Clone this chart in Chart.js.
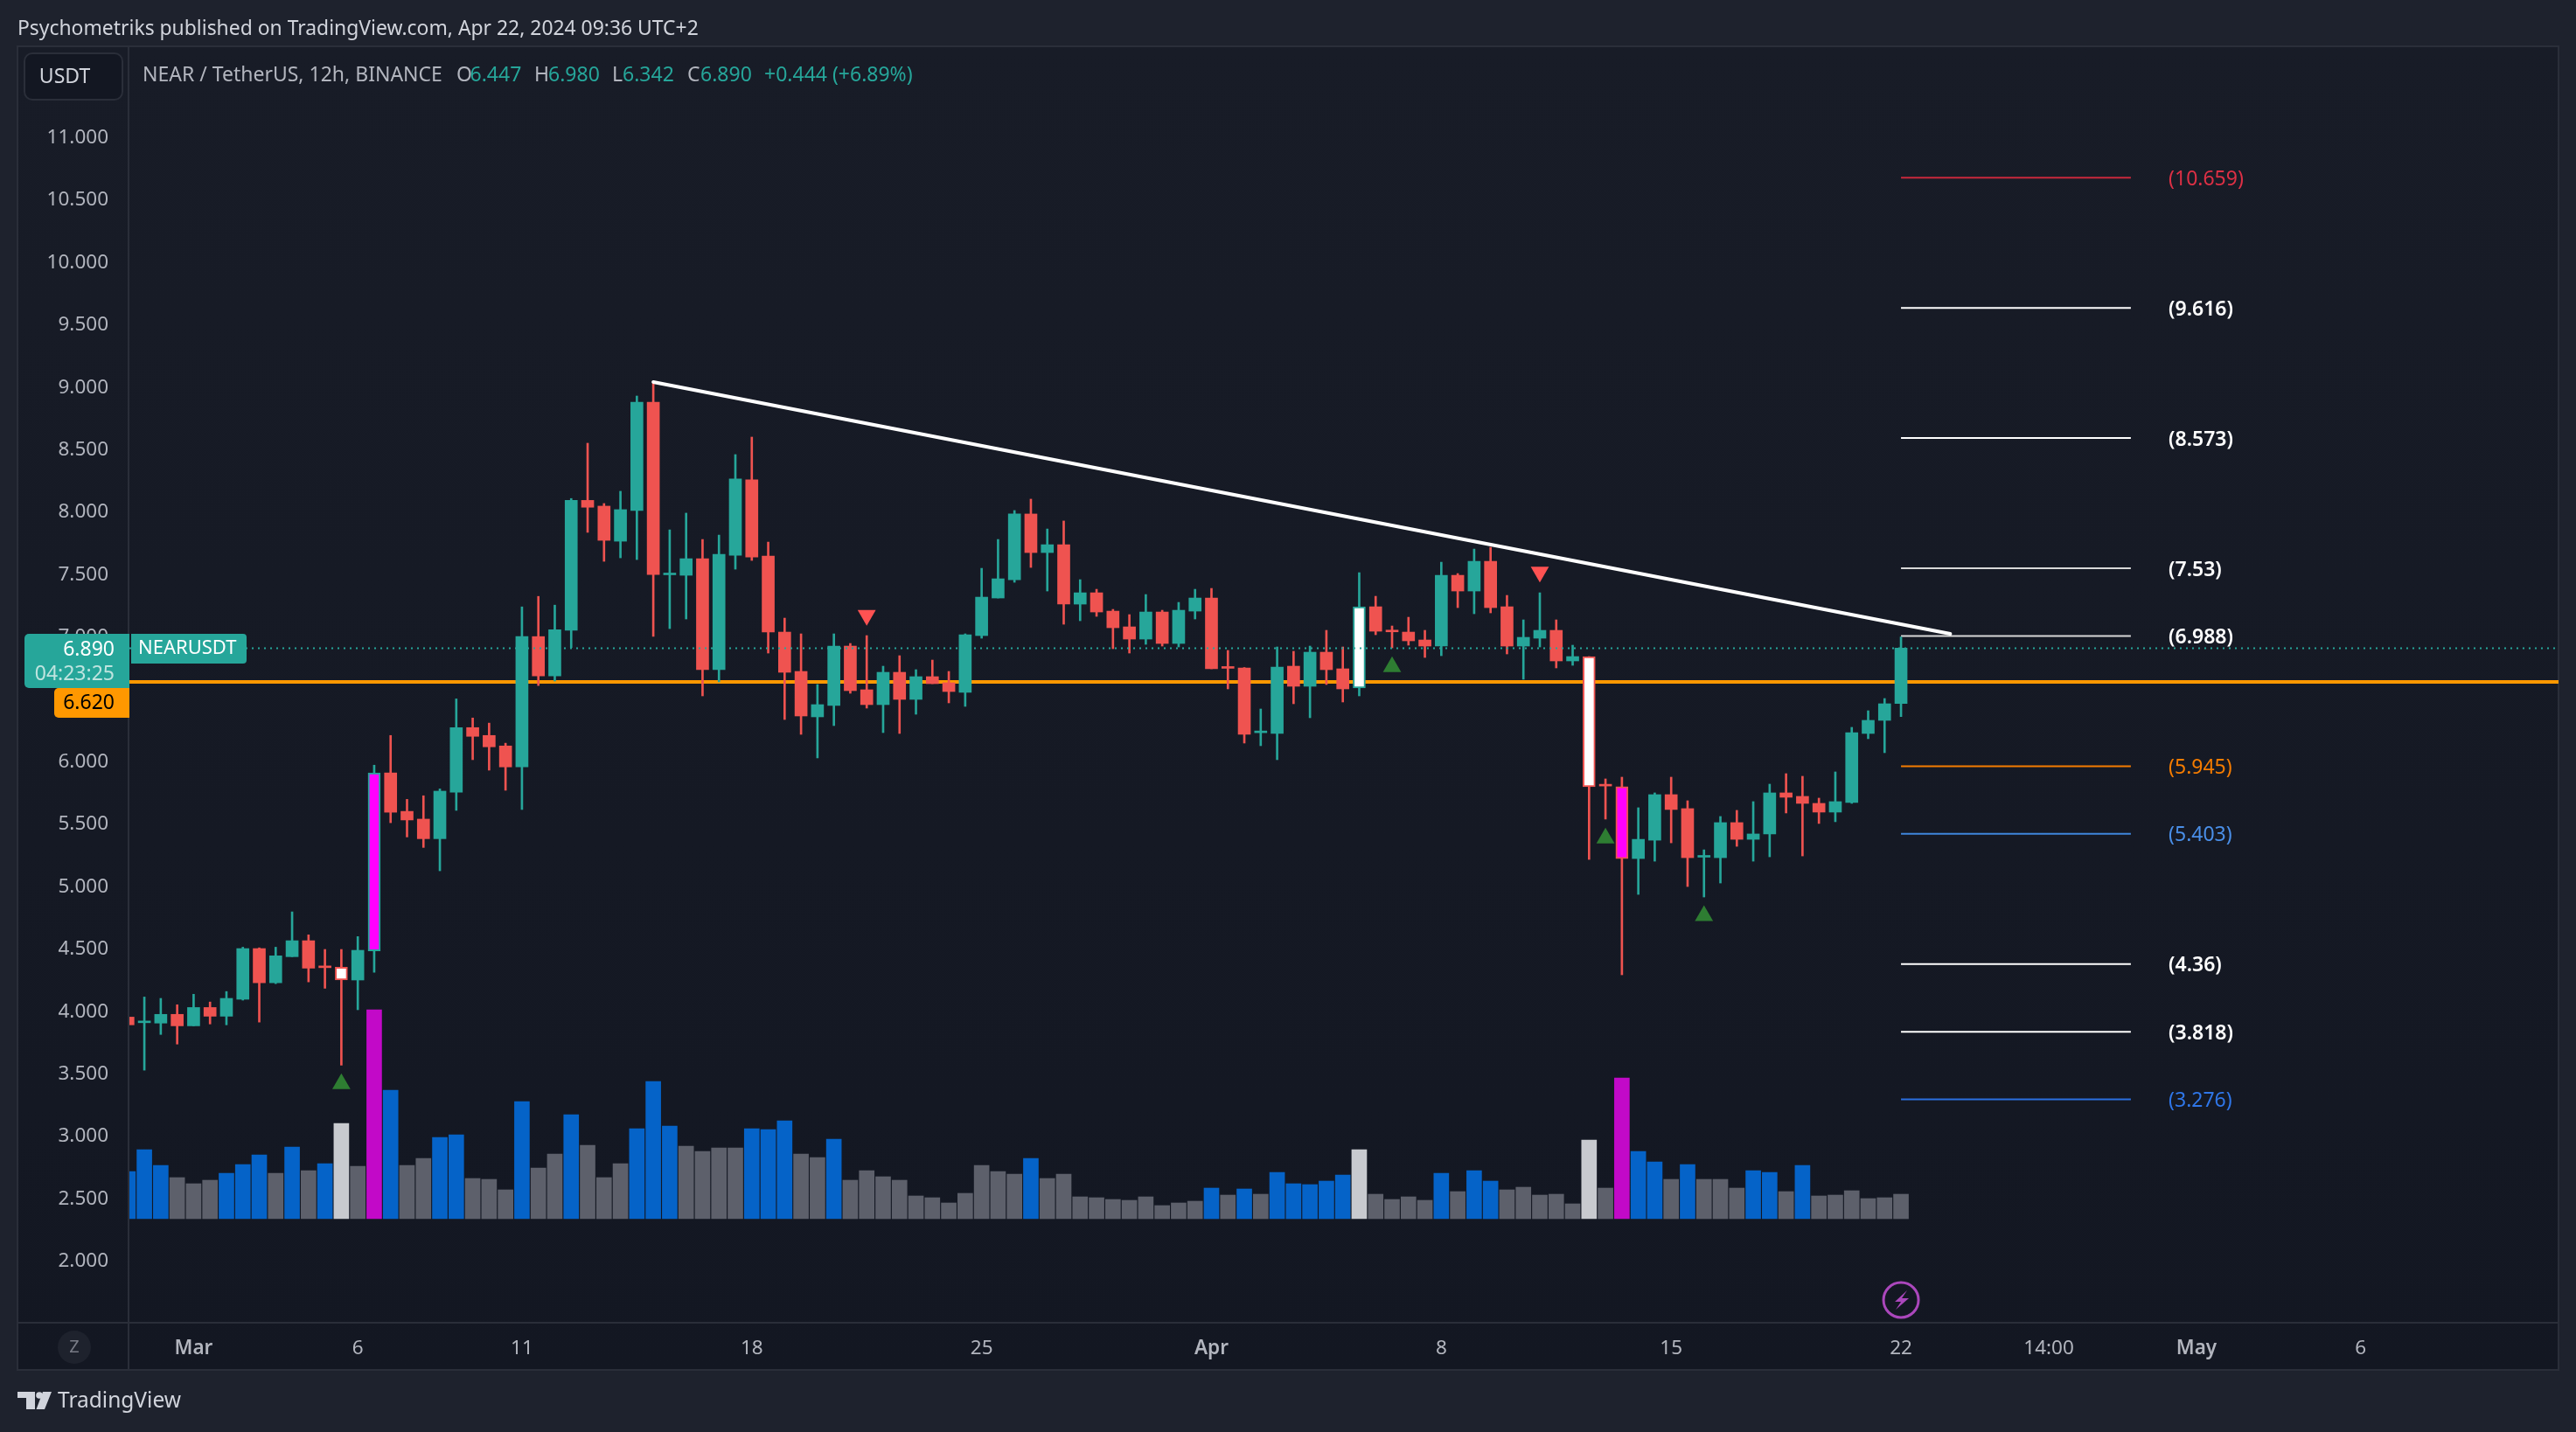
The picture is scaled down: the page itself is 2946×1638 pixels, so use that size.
<!DOCTYPE html>
<html><head><meta charset="utf-8">
<style>html,body{margin:0;padding:0;background:#1e222d;overflow:hidden}canvas{display:block}</style>
<script src="https://cdn.jsdelivr.net/npm/chart.js@4/dist/chart.umd.js"></script>
</head><body>
<canvas id="c" width="2946" height="1638" style="width:2946px;height:1638px"></canvas>
<script>
const opens=[3.935,3.89,3.887,3.957,3.865,4.012,3.942,4.078,4.484,4.21,4.419,4.547,4.337,4.334,4.232,4.466,5.891,5.583,5.521,5.364,5.737,6.254,6.191,6.107,5.939,6.983,6.668,7.034,8.074,8.028,7.747,7.993,8.861,7.478,7.474,7.607,6.718,7.635,8.238,7.628,7.019,6.704,6.34,6.431,6.907,6.557,6.438,6.697,6.48,6.662,6.613,6.536,6.991,7.292,7.439,7.965,7.656,7.719,7.243,7.334,7.187,7.061,6.963,7.18,6.928,7.187,7.292,6.735,6.732,6.213,6.207,6.746,6.585,6.858,6.725,6.571,7.222,7.027,7.019,6.956,6.907,7.474,7.348,7.586,7.222,6.907,6.97,7.033,6.788,6.823,5.792,5.78,5.205,5.352,5.717,5.605,5.216,5.212,5.493,5.359,5.402,5.731,5.703,5.647,5.577,5.654,6.207,6.312,6.447];
const highs=[3.94,4.096,4.085,4.034,4.118,4.056,4.14,4.495,4.49,4.495,4.778,4.594,4.477,4.477,4.58,5.953,6.191,5.679,5.708,5.763,6.484,6.331,6.29,6.129,7.221,7.305,7.235,8.089,8.532,8.049,8.147,8.91,9.013,7.838,7.972,7.761,7.796,8.441,8.581,7.74,7.131,7.005,6.599,7.005,6.928,6.991,6.746,6.83,6.718,6.795,6.704,7.005,7.53,7.761,7.993,8.084,7.845,7.909,7.439,7.362,7.201,7.159,7.32,7.194,7.257,7.362,7.369,6.872,6.735,6.403,6.9,6.865,6.907,7.033,6.9,7.495,7.306,7.068,7.138,7.033,7.579,7.488,7.684,7.698,7.313,7.117,7.334,7.117,6.914,6.823,5.843,5.857,5.612,5.731,5.857,5.668,5.275,5.542,5.591,5.661,5.801,5.885,5.864,5.689,5.899,6.256,6.389,6.487,6.98];
const lows=[3.873,3.51,3.796,3.719,3.865,3.88,3.873,4.071,3.895,4.203,4.419,4.217,4.166,3.55,3.994,4.294,5.492,5.378,5.294,5.107,5.591,5.997,5.913,5.752,5.598,6.591,6.627,6.895,7.818,7.586,7.614,7.6,6.984,7.047,7.124,6.508,6.62,7.523,7.593,6.851,6.319,6.2,6.011,6.27,6.529,6.41,6.214,6.207,6.361,6.606,6.452,6.424,6.97,7.292,7.418,7.537,7.348,7.082,7.11,7.145,6.886,6.851,6.921,6.907,6.9,7.124,6.725,6.564,6.13,6.109,5.997,6.445,6.333,6.599,6.459,6.508,6.998,6.893,6.914,6.816,6.83,7.215,7.166,7.173,6.844,6.641,6.9,6.732,6.753,5.198,5.521,4.274,4.918,5.184,5.331,4.981,4.897,5.009,5.303,5.184,5.219,5.57,5.226,5.486,5.5,5.647,6.165,6.053,6.342];
const closes=[3.873,3.9,3.957,3.865,4.012,3.942,4.085,4.484,4.21,4.426,4.547,4.327,4.331,4.232,4.47,5.891,5.576,5.514,5.364,5.745,6.254,6.184,6.1,5.939,6.983,6.668,7.038,8.074,8.019,7.754,8.0,8.861,7.481,7.484,7.607,6.718,7.642,8.245,7.621,7.019,6.697,6.347,6.438,6.907,6.55,6.438,6.697,6.48,6.662,6.606,6.543,6.998,7.299,7.446,7.965,7.656,7.719,7.243,7.334,7.18,7.054,6.963,7.18,6.928,7.194,7.292,6.725,6.729,6.2,6.219,6.739,6.585,6.858,6.718,6.564,7.222,7.026,7.021,6.949,6.907,7.474,7.348,7.586,7.215,6.907,6.977,7.033,6.788,6.823,5.78,5.786,5.205,5.359,5.717,5.598,5.212,5.222,5.493,5.359,5.402,5.731,5.696,5.647,5.577,5.661,6.214,6.312,6.445,6.89];
const volumes=[54,79,61,47,40,44,52,62,73,52,82,55,63,109,60,239,147,61,69,93,96,46,45,33,134,58,74,119,84,47,63,103,157,106,83,77,81,81,103,102,112,74,70,91,44,55,48,44,26,24,18,29,61,54,51,69,46,51,25,24,22,21,25,15,18,20,35,27,34,28,53,40,39,43,50,79,28,22,25,21,52,31,55,43,33,36,27,28,17,90,35,161,77,65,45,62,45,45,35,55,53,31,61,26,27,32,23,24,28];
const blueVolumeBars=[0,1,2,6,7,8,10,12,16,19,20,24,27,31,32,33,38,39,40,43,55,66,68,70,71,72,73,74,80,82,83,92,93,95,99,100,102];
const whiteBars=[13,75,89];
const magentaBars=[15,91];
const signalsUp=[{x:13,y:3.40},{x:77,y:6.741},{x:90,y:5.369},{x:96,y:4.746}];
const signalsDown=[{x:45,y:7.154},{x:86,y:7.50}];
const trendLine=[{x:32,y:9.022},{x:111,y:7.005}];
const fibLevels=[10.659,9.616,8.573,7.53,6.988,5.945,5.403,4.36,3.818,3.276];
const fibLabels=["(10.659)","(9.616)","(8.573)","(7.53)","(6.988)","(5.945)","(5.403)","(4.36)","(3.818)","(3.276)"];
const fibColors=["#c9283c","#ffffff","#ffffff","#d8d8d8","#d8d8d8","#f57c00","#3f86dc","#ffffff","#ffffff","#2a6fe0"];
const fibTextColors=["#dd3045","#ffffff","#ffffff","#ffffff","#ffffff","#f57c00","#4a8fe8","#ffffff","#ffffff","#2f76e8"];
const yTickValues=[2,2.5,3,3.5,4,4.5,5,5.5,6,6.5,7,7.5,8,8.5,9,9.5,10,10.5,11];
const xTickValues=[4,14,24,38,52,66,80,94,108,117,126,136];
const xTickLabels=["Mar","6","11","18","25","Apr","8","15","22","14:00","May","6"];
const supportLevel=6.62, lastPrice=6.89;

const FONT='"Noto Sans", sans-serif';
const BULL='#26a69a',BEAR='#ef5350';
const idx=opens.map((_,i)=>i);
const isBull=i=>closes[i]>=opens[i];
const candleColor=i=>isBull(i)?BULL:BEAR;
const XMIN=0.09,XMAX=148.05;

const frame={id:'frame',
 beforeDraw(ch){const c=ch.ctx;c.save();
  c.fillStyle='#1e222d';c.fillRect(0,0,2946,1638);
  const g=c.createLinearGradient(0,54,0,1567);g.addColorStop(0,'#181c27');g.addColorStop(1,'#131722');
  c.fillStyle=g;c.fillRect(20,53,2906,1514);
  c.strokeStyle='#2a2e39';c.lineWidth=2;c.strokeRect(20,53,2906,1514);
  c.beginPath();c.moveTo(20,1513);c.lineTo(2926,1513);c.moveTo(147,53);c.lineTo(147,1567);c.stroke();
  c.restore();},
 afterDraw(ch){const c=ch.ctx,x=ch.scales.x,y=ch.scales.y;c.save();
  c.textBaseline='middle';
  const txt=(s,px,py,col,font,al)=>{c.font=font||('23px '+FONT);c.fillStyle=col;c.textAlign=al||'left';c.fillText(s,px,py+2);};
  txt('Psychometriks published on TradingView.com, Apr 22, 2024 09:36 UTC+2',20,31,'#d1d4dc','22.9px '+FONT);
  const lf='23px '+FONT;
  txt('NEAR / TetherUS, 12h, BINANCE',163,84,'#b2b5be',lf);
  [['O',522,'6.447',537.5],['H',611,'6.980',627],['L',700,'6.342',712],['C',786,'6.890',801]].forEach(r=>{txt(r[0],r[1],84,'#b2b5be',lf);txt(r[2],r[3],84,BULL,lf);});
  txt('+0.444 (+6.89%)',874,84,BULL,lf);
  c.beginPath();c.roundRect(28,61,112,53,9);c.fillStyle='#131722';c.fill();c.strokeStyle='#2a2e39';c.lineWidth=2;c.stroke();
  txt('USDT',74,86,'#d1d4dc','23px '+FONT,'center');
  fibLevels.forEach((v,i)=>{txt(fibLabels[i],x.getPixelForValue(124.3),y.getPixelForValue(v),fibTextColors[i],(fibTextColors[i]==='#ffffff'?'600 ':'')+'23px '+FONT);});
  c.beginPath();c.roundRect(28,725,120,62,[5,0,0,5]);c.fillStyle=BULL;c.fill();
  txt('6.890',131,741,'#ffffff','23px '+FONT,'right');
  txt('04:23:25',131,769,'#bfe4df','23px '+FONT,'right');
  c.beginPath();c.roundRect(62,787,86,34,[5,0,0,5]);c.fillStyle='#ff9800';c.fill();
  txt('6.620',131,802,'#000000','23px '+FONT,'right');
  c.beginPath();c.roundRect(150,725,132,34,[0,4,4,0]);c.fillStyle=BULL;c.fill();
  txt('NEARUSDT',158,740,'#ffffff','22px '+FONT);
  c.beginPath();c.arc(85,1541,19,0,Math.PI*2);c.fillStyle='#1e222d';c.fill();
  txt('Z',85,1539,'#787b86','20px '+FONT,'center');
  const cx=x.getPixelForValue(108),cy=1487;
  c.beginPath();c.arc(cx,cy,20,0,Math.PI*2);c.strokeStyle='#ab47bc';c.lineWidth=3;c.stroke();
  c.beginPath();[[7,-11],[-7,2],[0,2],[-6,11],[9,-2],[1,-2]].forEach((p,i)=>i?c.lineTo(cx+p[0],cy+p[1]):c.moveTo(cx+p[0],cy+p[1]));c.closePath();c.fillStyle='#ab47bc';c.fill();
  c.fillStyle='#d1d4dc';
  c.beginPath();c.moveTo(20,1592);c.lineTo(40,1592);c.lineTo(40,1612);c.lineTo(30,1612);c.lineTo(30,1599);c.lineTo(20,1599);c.closePath();c.fill();
  c.beginPath();c.arc(45,1596,3.8,0,Math.PI*2);c.fill();
  c.beginPath();c.moveTo(49,1592);c.lineTo(59,1592);c.lineTo(51,1612);c.lineTo(41.5,1612);c.closePath();c.fill();
  txt('TradingView',66,1601,'#d1d4dc','24.5px '+FONT);
  c.restore();}
};

const levelLine=(v,col,w,dash,ord)=>({type:'line',data:[{x:XMIN,y:v},{x:XMAX,y:v}],borderColor:col,borderWidth:w,borderDash:dash,pointRadius:0,order:ord,yAxisID:'y'});
const fibDatasets=fibLevels.map((v,i)=>({type:'line',data:[{x:108,y:v},{x:122,y:v}],borderColor:fibColors[i],borderWidth:2,pointRadius:0,order:8,yAxisID:'y'}));

new Chart(document.getElementById('c'),{
 type:'bar',
 plugins:[frame],
 data:{datasets:[
  levelLine(lastPrice,BULL,2,[2,5],1),
  {type:'line',data:trendLine,borderColor:'#ffffff',borderWidth:4,pointRadius:0,order:2,yAxisID:'y',borderCapStyle:'round'},
  {type:'scatter',data:signalsUp,pointStyle:'triangle',pointRadius:12,backgroundColor:'#2e7d32',borderWidth:0,order:3,yAxisID:'y'},
  {type:'scatter',data:signalsDown,pointStyle:'triangle',pointRotation:180,pointRadius:12,backgroundColor:'#ff5252',borderWidth:0,order:3,yAxisID:'y'},
  {type:'bar',data:idx.map(i=>({x:i,y:[Math.min(opens[i],closes[i]),Math.max(opens[i],closes[i])]})),barThickness:14,grouped:false,minBarLength:2,
   backgroundColor:idx.map(i=>whiteBars.includes(i)?'#ffffff':magentaBars.includes(i)?'#ff00ff':candleColor(i)),
   borderColor:idx.map(candleColor),borderWidth:idx.map(i=>(whiteBars.includes(i)||magentaBars.includes(i))?2:0),borderSkipped:false,order:4,yAxisID:'y'},
  {type:'bar',data:idx.map(i=>({x:i,y:[lows[i],highs[i]]})),barThickness:2,grouped:false,backgroundColor:idx.map(candleColor),borderWidth:0,order:5,yAxisID:'y'},
  levelLine(supportLevel,'#ff9800',4,[],6),
  {type:'bar',data:idx.map(i=>({x:i,y:volumes[i]})),barThickness:17,grouped:false,
   backgroundColor:idx.map(i=>magentaBars.includes(i)?'#c209c8':whiteBars.includes(i)?'#c8cacf':blueVolumeBars.includes(i)?'#0563c8':'#5d606b'),borderWidth:0,order:7,yAxisID:'yVol'},
  ...fibDatasets
 ]},
 options:{
  responsive:false,devicePixelRatio:1,animation:false,maintainAspectRatio:false,
  layout:{padding:{left:20,top:54,right:20,bottom:71}},
  plugins:{legend:{display:false},title:{display:false},tooltip:{enabled:false}},
  scales:{
   x:{type:'linear',offset:false,min:XMIN,max:XMAX,grid:{display:false},border:{display:false},
    afterBuildTicks:s=>{s.ticks=xTickValues.map(v=>({value:v}));},
    afterFit:s=>{s.height=55;},
    ticks:{autoSkip:false,maxRotation:0,padding:9.5,color:'#b2b5be',
     font:c=>({family:FONT,size:22.5,weight:(xTickLabels[xTickValues.indexOf(c.tick&&c.tick.value)]||'').match(/Mar|Apr|May/)?'600':'400'}),
     callback:v=>xTickLabels[xTickValues.indexOf(v)]}},
   y:{type:'linear',position:'left',beginAtZero:false,min:1.494,max:11.704,grid:{display:false},border:{display:false},
    afterBuildTicks:s=>{s.ticks=yTickValues.map(v=>({value:v}));},
    afterFit:s=>{s.width=128;},
    afterUpdate:s=>{ // nudge the labels to sit on the reference baseline (wrap only once)
      if(s._nudged)return;s._nudged=true;
      const orig=s._computeLabelItems;
      s._computeLabelItems=function(a){const items=orig.call(this,a);items.forEach(it=>{it.options.translation[1]+=3;});return items;};
      s._labelItems=null;},
    ticks:{autoSkip:false,padding:16,color:'#b2b5be',font:{family:FONT,size:22.5},callback:v=>v.toFixed(3)}},
   yVol:{type:'linear',display:false,beginAtZero:false,min:-118,max:1340,position:'right'}
  }
 }
});
</script>
</body></html>
